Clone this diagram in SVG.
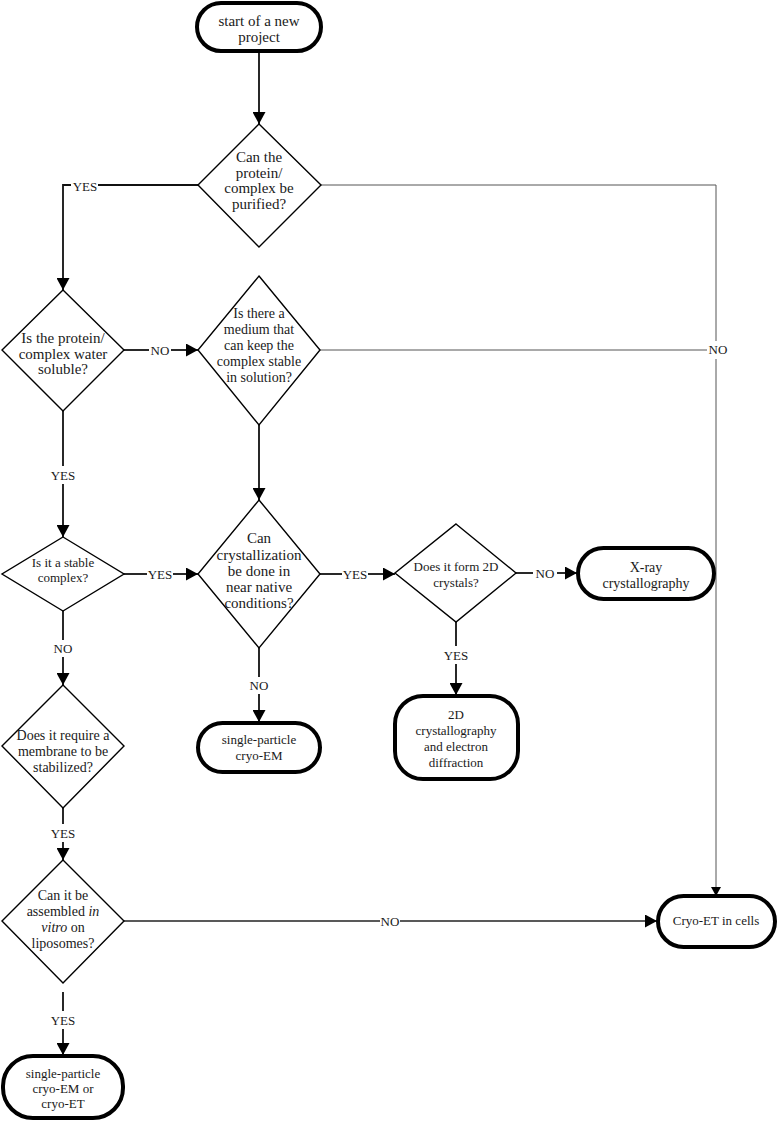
<svg xmlns="http://www.w3.org/2000/svg" width="781" height="1122" viewBox="0 0 781 1122" font-family="'Liberation Serif','DejaVu Serif',serif">
<style>
text{font-family:"Liberation Serif","DejaVu Serif",serif;fill:#1a1a1a;text-anchor:middle}
.t{font-size:15px}
.s{font-size:14px}
.lb{font-size:13px}
.term{fill:#fff;stroke:#000;stroke-width:4}
.dia{fill:#fff;stroke:#000;stroke-width:1.4}
.c{fill:none;stroke:#111;stroke-width:1.8}
.cm{fill:none;stroke:#222;stroke-width:1.3}
.thin{fill:none;stroke:#555;stroke-width:1}
</style>
<defs>
<marker id="ah" markerUnits="userSpaceOnUse" markerWidth="13" markerHeight="13" refX="12" refY="6.5" orient="auto"><path d="M0,0 L12,6.5 L0,13 z" fill="#000"/></marker>
<marker id="ahs" markerUnits="userSpaceOnUse" markerWidth="10" markerHeight="10" refX="9" refY="5" orient="auto"><path d="M0,0 L9,5 L0,10 z" fill="#000"/></marker>
</defs>
<g id="connectors">
<path class="c" d="M259,52 V124" marker-end="url(#ah)"/>
<path class="c" d="M198,185 H98"/>
<path class="c" d="M71,185 H63 V290" marker-end="url(#ah)"/>
<path class="thin" d="M321,185 H716 V341"/>
<path class="thin" d="M716,359 V896" marker-end="url(#ahs)"/>
<path class="thin" d="M320,350 H707"/>
<path class="c" d="M124,350 H149"/>
<path class="c" d="M171,350 H198" marker-end="url(#ah)"/>
<path class="c" d="M63,411 V466"/>
<path class="c" d="M63,484 V537" marker-end="url(#ah)"/>
<path class="c" d="M259,425 V500" marker-end="url(#ah)"/>
<path class="c" d="M124,574 H147"/>
<path class="c" d="M173,574 H198" marker-end="url(#ah)"/>
<path class="c" d="M63,611 V640"/>
<path class="c" d="M63,657 V685" marker-end="url(#ah)"/>
<path class="c" d="M320,574 H342"/>
<path class="c" d="M368,574 H395" marker-end="url(#ah)"/>
<path class="c" d="M259,648 V677"/>
<path class="c" d="M259,694 V722" marker-end="url(#ah)"/>
<path class="c" d="M516,573 H533"/>
<path class="c" d="M557,573 H577" marker-end="url(#ah)"/>
<path class="c" d="M456,622 V646"/>
<path class="c" d="M456,664 V695" marker-end="url(#ah)"/>
<path class="c" d="M63,808 V824"/>
<path class="c" d="M63,842 V860" marker-end="url(#ah)"/>
<path class="c" d="M63,992 V1011"/>
<path class="c" d="M63,1029 V1055" marker-end="url(#ah)"/>
<path class="cm" d="M124,921 H380"/>
<path class="cm" d="M400,921 H657" marker-end="url(#ah)"/>
<text class="lb" x="85" y="191">YES</text>
<text class="lb" x="718" y="354">NO</text>
<text class="lb" x="160" y="355">NO</text>
<text class="lb" x="63" y="480">YES</text>
<text class="lb" x="160" y="579">YES</text>
<text class="lb" x="355" y="579">YES</text>
<text class="lb" x="63" y="653">NO</text>
<text class="lb" x="259" y="690">NO</text>
<text class="lb" x="545" y="578">NO</text>
<text class="lb" x="456" y="660">YES</text>
<text class="lb" x="63" y="838">YES</text>
<text class="lb" x="63" y="1025">YES</text>
<text class="lb" x="390" y="926">NO</text>
</g>
<g id="start">
<rect class="term" x="197" y="3" width="124" height="48" rx="24"/>
<text class="t" x="259" y="26">start of a new</text>
<text class="t" x="259" y="42">project</text>
</g>
<g id="q-purify">
<path class="dia" d="M259,124 L321,185 L259,247 L198,185 Z"/>
<text class="t" x="259" y="162">Can the</text>
<text class="t" x="259" y="178">protein/</text>
<text class="t" x="259" y="193">complex be</text>
<text class="t" x="259" y="209">purified?</text>
</g>
<g id="q-soluble">
<path class="dia" d="M63,290 L124,350 L63,411 L2,350 Z"/>
<text class="t" x="63" y="343">Is the protein/</text>
<text class="t" x="63" y="359">complex water</text>
<text class="t" x="63" y="374">soluble?</text>
</g>
<g id="q-medium">
<path class="dia" d="M259,276 L320,350 L259,425 L198,350 Z"/>
<text class="s" x="259" y="318">Is there a</text>
<text class="s" x="259" y="334">medium that</text>
<text class="s" x="259" y="350">can keep the</text>
<text class="s" x="259" y="366">complex stable</text>
<text class="s" x="259" y="382">in solution?</text>
</g>
<g id="q-stable">
<path class="dia" d="M63,537 L124,574 L63,611 L2,574 Z"/>
<text class="lb" x="63" y="567">Is it a stable</text>
<text class="lb" x="63" y="582">complex?</text>
</g>
<g id="q-crystallize">
<path class="dia" d="M259,500 L320,574 L259,648 L198,574 Z"/>
<text class="t" x="259" y="543">Can</text>
<text class="t" x="259" y="560">crystallization</text>
<text class="t" x="259" y="576">be done in</text>
<text class="t" x="259" y="592">near native</text>
<text class="t" x="259" y="608">conditions?</text>
</g>
<g id="q-2d">
<path class="dia" d="M456,524 L516,573 L456,622 L395,573 Z"/>
<text class="lb" x="456" y="571">Does it form 2D</text>
<text class="lb" x="456" y="587">crystals?</text>
</g>
<g id="xray">
<rect class="term" x="578" y="548" width="136" height="51" rx="25.5"/>
<text class="s" x="646" y="572">X-ray</text>
<text class="s" x="646" y="588">crystallography</text>
</g>
<g id="twod">
<rect class="term" x="395" y="696" width="123" height="83" rx="28"/>
<text class="lb" x="456" y="719">2D</text>
<text class="lb" x="456" y="735">crystallography</text>
<text class="lb" x="456" y="751">and electron</text>
<text class="lb" x="456" y="767">diffraction</text>
</g>
<g id="spa">
<rect class="term" x="198" y="723" width="122" height="49" rx="24.5"/>
<text class="lb" x="259" y="744">single-particle</text>
<text class="lb" x="259" y="760">cryo-EM</text>
</g>
<g id="q-membrane">
<path class="dia" d="M63,685 L124,746 L63,808 L2,746 Z"/>
<text class="s" x="63" y="740">Does it require a</text>
<text class="s" x="63" y="756">membrane to be</text>
<text class="s" x="63" y="772">stabilized?</text>
</g>
<g id="q-liposome">
<path class="dia" d="M63,860 L124,921 L63,983 L2,921 Z"/>
<text class="s" x="63" y="900">Can it be</text>
<text class="s" x="63" y="916">assembled <tspan font-style="italic">in</tspan></text>
<text class="s" x="63" y="932"><tspan font-style="italic">vitro</tspan> on</text>
<text class="s" x="63" y="948">liposomes?</text>
</g>
<g id="spa-et">
<rect class="term" x="3" y="1056" width="120" height="62" rx="30"/>
<text class="lb" x="63" y="1078">single-particle</text>
<text class="lb" x="63" y="1093">cryo-EM or</text>
<text class="lb" x="63" y="1108">cryo-ET</text>
</g>
<g id="cryoet-cells">
<rect class="term" x="658" y="896" width="117" height="51" rx="25.5"/>
<text class="lb" x="716" y="925">Cryo-ET in cells</text>
</g>
</svg>
